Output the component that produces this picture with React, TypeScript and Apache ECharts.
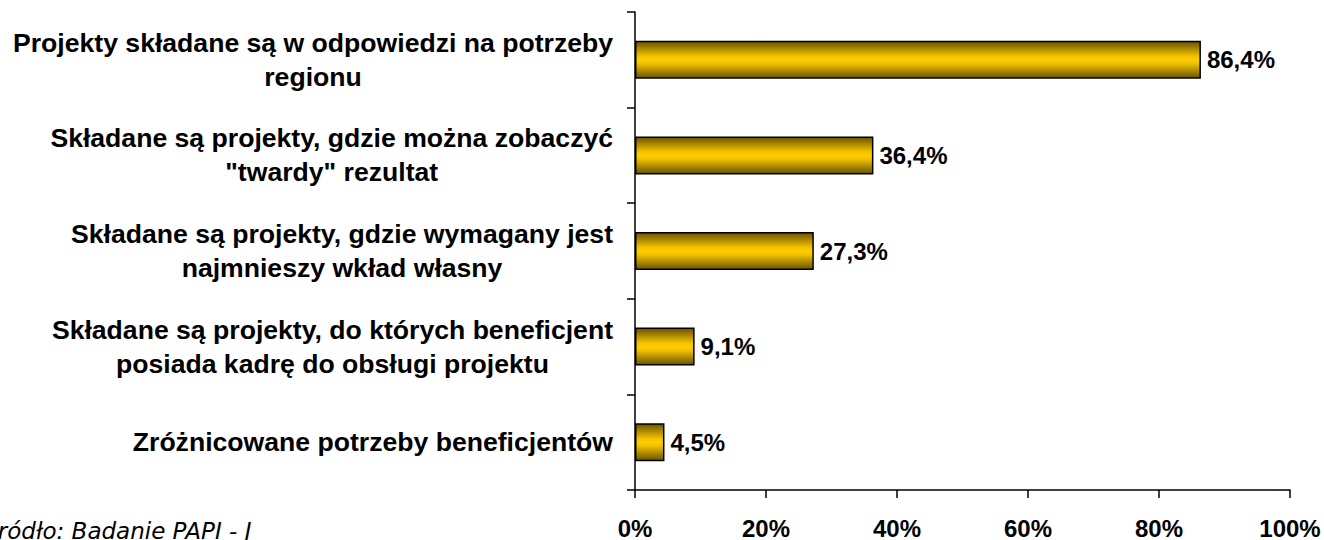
import React, { useEffect, useRef } from "react";
import * as echarts from "echarts";

const categories = [
  "Projekty składane są w odpowiedzi na potrzeby\nregionu",
  "Składane są projekty, gdzie można zobaczyć\n\"twardy\" rezultat",
  "Składane są projekty, gdzie wymagany jest\nnajmnieszy wkład własny",
  "Składane są projekty, do których beneficjent\nposiada kadrę do obsługi projektu",
  "Zróżnicowane potrzeby beneficjentów",
];
const values = [86.4, 36.4, 27.3, 9.1, 4.5];
const xMin = 0;
const xMax = 100;
const xStep = 20;
const sourceNote = "Źródło: Badanie PAPI - J";

const FONT = '"Liberation Sans", Arial, sans-serif';

export default function App() {
  const ref = useRef<HTMLDivElement>(null);
  useEffect(() => {
    if (!ref.current) return;
    const chart = echarts.init(ref.current, null, { renderer: "svg" });
    chart.setOption({
      animation: false,
      backgroundColor: "#ffffff",
      grid: { left: 635, right: 34, top: 12, bottom: 48, containLabel: false },
      xAxis: {
        type: "value",
        min: xMin,
        max: xMax,
        interval: xStep,
        axisLine: { show: true, lineStyle: { color: "#000", width: 1.5 } },
        axisTick: { show: true, length: 8, lineStyle: { color: "#000", width: 1.5 } },
        splitLine: { show: false },
        axisLabel: {
          formatter: "{value}%",
          color: "#000",
          fontFamily: FONT,
          fontWeight: "bold",
          fontSize: 24,
          margin: 26,
        },
      },
      yAxis: {
        type: "category",
        inverse: true,
        data: categories,
        axisLine: { show: true, lineStyle: { color: "#000", width: 1.5 } },
        axisTick: { show: true, length: 8, lineStyle: { color: "#000", width: 1.5 } },
        axisLabel: {
          align: "right",
          margin: 22,
          formatter: (v: string) =>
            v
              .split("\n")
              .map((l) => `{c|${l}}`)
              .join("\n"),
          rich: {
            c: {
              align: "center",
              fontFamily: FONT,
              fontWeight: "bold",
              fontSize: 26.6,
              lineHeight: 34,
              color: "#000",
            },
          },
        },
      },
      series: [
        {
          type: "bar",
          data: values,
          barWidth: 38,
          itemStyle: {
            borderColor: "#000",
            borderWidth: 1.5,
            color: new echarts.graphic.LinearGradient(0, 0, 0, 1, [
              { offset: 0, color: "#6a5300" },
              { offset: 0.4, color: "#f2c200" },
              { offset: 0.5, color: "#ffcc00" },
              { offset: 0.6, color: "#f2c200" },
              { offset: 1, color: "#6a5300" },
            ]),
          },
          label: {
            show: true,
            position: "right",
            distance: 6,
            color: "#000",
            fontFamily: FONT,
            fontWeight: "bold",
            fontSize: 24,
            formatter: (p: any) => p.value.toFixed(1).replace(".", ",") + "%",
          },
        },
      ],
      graphic: [
        {
          type: "text",
          left: -18,
          top: 519,
          style: {
            text: sourceNote,
            fontFamily: '"DejaVu Sans", sans-serif',
            fontStyle: "italic",
            fontSize: 23,
            fill: "#000",
          },
        },
      ],
    });
    return () => chart.dispose();
  }, []);
  return (
    <div
      ref={ref}
      style={{ position: "fixed", left: 0, top: 0, width: 1324, height: 540, background: "#fff" }}
    />
  );
}
